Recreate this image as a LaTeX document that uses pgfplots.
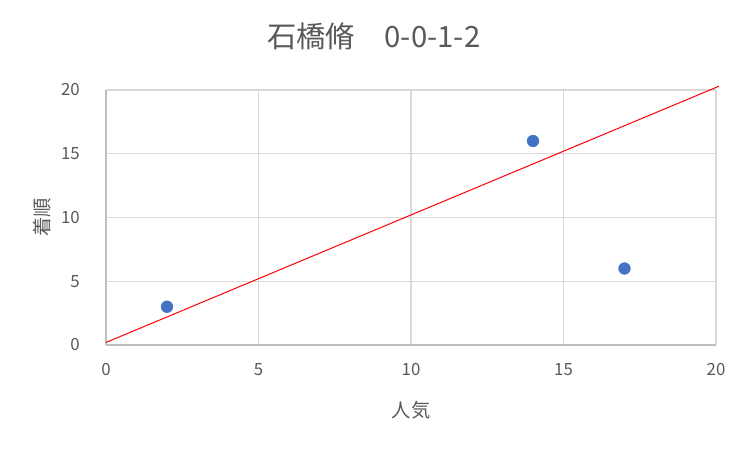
\documentclass[border=0pt]{standalone}
\usepackage{fontspec}
\setmainfont{Noto Sans CJK JP}
\usepackage{pgfplots}
\pgfplotsset{compat=1.18}
\definecolor{txtgrey}{HTML}{595959}
\definecolor{gridgrey}{HTML}{D9D9D9}
\definecolor{axgrey}{HTML}{BFBFBF}
\definecolor{dotblue}{HTML}{4472C4}
\begin{document}
\begin{tikzpicture}
\useasboundingbox (0pt,0pt) rectangle (562.5pt,337.5pt);
\begin{axis}[
  at={(79.5pt,78.75pt)}, anchor=south west,
  scale only axis, width=457.5pt, height=191.25pt,
  xmin=0, xmax=20, ymin=0, ymax=20,
  xtick={0,5,10,15,20}, ytick={0,5,10,15,20},
  axis lines=left, axis line style={-, axgrey, line width=0.9pt},
  grid=major, grid style={gridgrey, line width=0.9pt},
  major tick length=0pt,
  /pgf/number format/assume math mode=true,
  tick label style={font=\fontsize{12.6}{14}\selectfont, text=txtgrey},
  xticklabel style={anchor=center, yshift=-18.75pt},
  yticklabel style={anchor=east, inner sep=0pt, xshift=-19.5pt},
  title={石橋脩　0-0-1-2},
  title style={at={(axis description cs:0.439,1.18)}, anchor=center, font=\fontsize{22}{25}\selectfont, text=txtgrey},
  xlabel={人気},
  xlabel style={at={(axis description cs:0.5,-0.255)}, anchor=center, font=\fontsize{14.5}{17}\selectfont, text=txtgrey},
  ylabel={着順},
  ylabel style={at={(axis description cs:-0.105,0.5)}, anchor=center, font=\fontsize{14.5}{17}\selectfont, text=txtgrey},
  clip=false,
]
\addplot[only marks, mark=*, mark size=4.4pt, dotblue, mark options={draw=dotblue, fill=dotblue}] coordinates {(2,3) (14,16) (17,6)};
\addplot[red, line width=0.75pt] coordinates {(0,0.2) (20.1,20.3)};
\end{axis}
\end{tikzpicture}
\end{document}
